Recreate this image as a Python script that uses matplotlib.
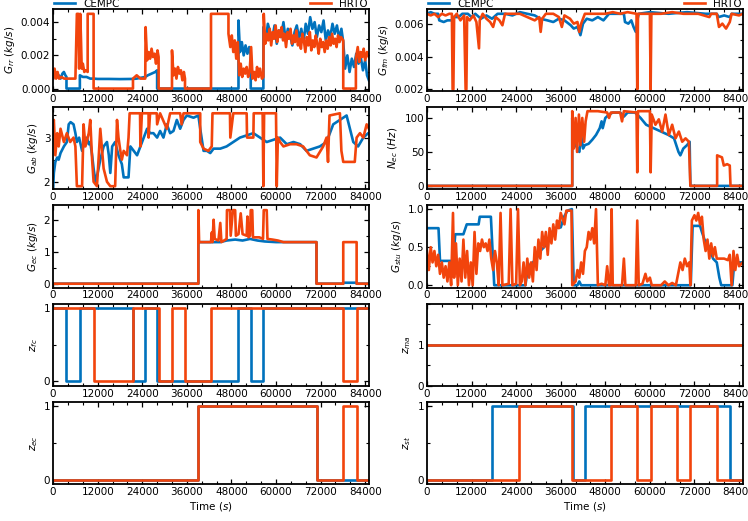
import numpy as np
import matplotlib
matplotlib.use('Agg')
import matplotlib.pyplot as plt
from matplotlib.ticker import MultipleLocator, AutoMinorLocator

# colours of the two controllers
BLUE = '#0072BD'
ORANGE = '#F2440C'

# ---- data: (time s, value) ----
grr_cempc = [(0, 0.0006), (500, 0.0009), (1000, 0.0007), (1500, 0.0008), (2000, 0.0006), (2500, 0.0009),
             (2900, 0.001), (3300, 0.0008), (3600, 0.0007), (3600, 0.0), (7200, 0.0), (7200, 0.0008),
             (8000, 0.0007), (9000, 0.0007), (10000, 0.0006), (10900, 0.0006), (12000, 0.00058),
             (15000, 0.00058), (18000, 0.00057), (21500, 0.00058), (22500, 0.0006), (24800, 0.0007),
             (25500, 0.0008), (26500, 0.0009), (27500, 0.001), (28000, 0.0011), (28000, 0.0), (49900, 0.0),
             (49900, 0.0041), (50300, 0.0022), (50800, 0.0028), (51300, 0.002), (51800, 0.0026),
             (52300, 0.0021), (52800, 0.0025), (53200, 0.002), (53200, 0.0), (56600, 0.0), (56600, 0.0037),
             (57200, 0.0028), (57800, 0.0039), (58400, 0.0034), (59000, 0.0030), (59600, 0.0038),
             (60200, 0.0027), (60800, 0.0035), (61400, 0.0031), (62000, 0.0040), (62600, 0.0029),
             (63200, 0.0036), (63800, 0.0032), (64400, 0.0026), (65000, 0.0034), (65600, 0.0038),
             (66200, 0.0030), (66800, 0.0036), (67400, 0.0028), (68000, 0.0039), (68600, 0.0033),
             (69200, 0.0043), (69800, 0.0036), (70400, 0.0040), (71000, 0.0031), (71600, 0.0038),
             (72200, 0.0034), (72800, 0.0041), (73400, 0.0029), (74000, 0.0035), (74600, 0.0031),
             (75200, 0.0039), (75800, 0.0033), (76400, 0.0038), (77000, 0.0030), (77600, 0.0036),
             (78100, 0.0028), (78600, 0.0012), (79200, 0.0020), (79800, 0.0010), (80400, 0.0018),
             (81000, 0.0013), (81600, 0.0021), (82200, 0.0015), (82800, 0.0019), (83400, 0.0011),
             (84000, 0.0017), (84500, 0.0008), (85000, 0.0005)]
grr_hrto = [(0, 0.0006), (400, 0.0012), (800, 0.0006), (1200, 0.001), (1600, 0.0006), (2200, 0.0007),
            (3000, 0.0006), (6000, 0.0006), (6400, 0.0045), (6800, 0.0045), (7000, 0.0012), (7300, 0.0045),
            (7500, 0.0030), (7700, 0.0012), (8000, 0.0015), (8400, 0.001), (8800, 0.0011), (9300, 0.0010),
            (9300, 0.0045), (10900, 0.0045), (10900, 0.0), (21500, 0.0), (21500, 0.0006), (22500, 0.0008),
            (23500, 0.0006), (24800, 0.0006), (24900, 0.0037), (25300, 0.0017), (25700, 0.0022),
            (26100, 0.0018), (26500, 0.0024), (26900, 0.0019), (27300, 0.0021), (27700, 0.0015),
            (28100, 0.0023), (28400, 0.0019), (28400, 0.0), (32000, 0.0), (32000, 0.0023), (32400, 0.0008),
            (32800, 0.0012), (33200, 0.0006), (33600, 0.0013), (34000, 0.0009), (34400, 0.0011),
            (34800, 0.0005), (35200, 0.001), (35500, 0.0006), (35500, 0.0), (42500, 0.0), (42500, 0.0045),
            (47200, 0.0045), (47200, 0.0033), (47700, 0.0025), (48100, 0.0032), (48500, 0.0022),
            (48900, 0.0029), (49300, 0.0018), (49700, 0.0028), (50100, 0.0008), (50500, 0.0015),
            (50900, 0.0007), (51300, 0.0012), (51700, 0.0009), (52100, 0.0013), (52500, 0.0007),
            (52900, 0.001), (53300, 0.0025), (53700, 0.0006), (54100, 0.001), (54500, 0.0005),
            (54900, 0.0013), (55300, 0.0007), (55700, 0.0012), (56200, 0.0006), (56600, 0.0007),
            (56700, 0.0045), (57100, 0.0027), (57500, 0.0033), (57900, 0.0029), (58300, 0.0036),
            (58700, 0.0026), (59100, 0.0034), (59500, 0.0030), (59900, 0.0038), (60300, 0.0028),
            (60700, 0.0035), (61100, 0.0031), (61500, 0.0037), (61900, 0.0029), (62300, 0.0033),
            (62700, 0.0025), (63100, 0.0034), (63500, 0.0030), (63900, 0.0036), (64300, 0.0027),
            (64700, 0.0032), (65100, 0.0028), (65500, 0.0035), (65900, 0.0026), (66300, 0.0030),
            (66700, 0.0024), (67100, 0.0033), (67500, 0.0029), (67900, 0.0022), (68300, 0.0031),
            (68700, 0.0026), (69100, 0.0034), (69500, 0.0023), (69900, 0.0029), (70300, 0.0025),
            (70700, 0.0032), (71100, 0.0027), (71500, 0.0021), (71900, 0.0030), (72300, 0.0025),
            (72700, 0.0028), (73100, 0.0022), (73500, 0.0029), (73900, 0.0024), (74300, 0.0031),
            (74700, 0.0026), (75100, 0.0033), (75500, 0.0027), (75900, 0.0030), (76300, 0.0025),
            (76700, 0.0032), (77100, 0.0028), (77500, 0.0031), (78100, 0.0029), (78100, 0.0), (81500, 0.0),
            (81500, 0.0018), (82000, 0.0025), (82400, 0.0016), (82800, 0.0022), (83200, 0.0019),
            (83600, 0.0024), (84000, 0.0017), (84500, 0.0022), (85000, 0.0019)]

gfm_cempc = [(0, 0.0066), (1000, 0.0067), (2000, 0.0066), (3000, 0.0066), (3300, 0.0062), (4500, 0.0061),
             (5500, 0.0062), (6900, 0.0062), (7000, 0.0064), (8500, 0.0064), (9500, 0.0066), (11000, 0.0066),
             (12000, 0.0064), (13000, 0.0066), (14500, 0.0063), (16000, 0.0065), (17500, 0.0063),
             (19000, 0.0066), (21000, 0.0066), (23000, 0.0065), (25000, 0.0067), (27000, 0.0066),
             (29000, 0.0065), (30500, 0.0063), (32400, 0.0062), (34000, 0.0061), (35500, 0.0063),
             (37000, 0.0062), (38700, 0.0059), (39500, 0.0057), (40500, 0.0058), (41300, 0.0053),
             (42000, 0.0060), (43000, 0.0063), (44500, 0.0062), (46000, 0.0064), (47500, 0.0062),
             (49000, 0.0066), (51000, 0.0066), (53000, 0.0066), (53300, 0.0061), (54200, 0.0060),
             (55000, 0.0062), (55600, 0.0058), (56200, 0.0055), (56600, 0.0062), (57000, 0.0066),
             (60000, 0.0067), (65000, 0.0066), (70000, 0.0067), (75000, 0.0066), (78000, 0.0066),
             (78500, 0.0064), (80000, 0.0065), (81500, 0.0064), (82000, 0.0066), (85000, 0.0066)]
gfm_hrto = [(0, 0.0066), (1000, 0.0065), (2000, 0.0066), (3000, 0.0064), (4000, 0.0066), (5000, 0.0065),
            (6000, 0.0066), (6700, 0.0066), (6900, 0.0020), (7100, 0.0020), (7300, 0.0064), (8000, 0.0066),
            (9000, 0.0062), (10000, 0.0065), (10400, 0.0020), (10600, 0.0020), (10800, 0.0064),
            (11500, 0.0062), (12500, 0.0065), (13300, 0.0061), (14000, 0.0045), (14200, 0.0062),
            (15000, 0.0066), (16000, 0.0063), (17000, 0.0061), (17800, 0.0058), (18500, 0.0064),
            (19500, 0.0062), (20300, 0.0059), (21000, 0.0066), (23000, 0.0066), (25000, 0.0066),
            (27000, 0.0064), (29000, 0.0062), (30200, 0.0064), (30600, 0.0055), (31000, 0.0063),
            (32000, 0.0066), (34000, 0.0066), (35500, 0.0064), (36300, 0.0058), (37000, 0.0065),
            (38500, 0.0063), (39500, 0.0060), (40500, 0.0061), (41000, 0.0055), (41500, 0.0060),
            (42500, 0.0066), (45000, 0.0066), (48000, 0.0066), (50000, 0.0067), (52000, 0.0066),
            (54000, 0.0067), (56400, 0.0066), (56600, 0.0020), (56800, 0.0066), (58000, 0.0066),
            (60000, 0.0066), (60200, 0.0020), (60400, 0.0066), (63000, 0.0066), (66000, 0.0067),
            (69000, 0.0066), (73000, 0.0066), (76000, 0.0064), (76500, 0.0066), (78000, 0.0066),
            (78600, 0.0058), (79500, 0.0060), (80500, 0.0057), (81500, 0.0061), (82000, 0.0066),
            (84000, 0.0065), (85000, 0.0066)]

gab_cempc = [(0, 1.85), (200, 2.2), (600, 2.45), (1100, 2.55), (1500, 2.5), (2000, 2.65), (2900, 2.8),
             (3700, 2.9), (4200, 3.3), (4700, 3.35), (5500, 3.3), (6000, 3.1), (6400, 2.9), (7000, 3.0),
             (7800, 2.7), (8500, 2.9), (9100, 3.0), (9600, 2.85), (10000, 2.9), (10500, 2.6), (10900, 2.3),
             (11400, 2.0), (12000, 2.2), (12700, 2.5), (13600, 2.8), (14500, 2.9), (15000, 2.6),
             (15400, 2.2), (15900, 2.8), (16700, 2.9), (17600, 2.6), (18500, 2.4), (19000, 2.1),
             (20300, 2.1), (20800, 2.8), (21700, 2.7), (22600, 2.6), (23500, 2.8), (24400, 3.0),
             (25300, 3.2), (26100, 3.1), (27000, 3.1), (28000, 3.0), (28800, 3.15), (29700, 3.0),
             (30600, 3.3), (31500, 3.1), (32400, 3.15), (33300, 3.4), (34200, 3.2), (35100, 3.4),
             (36000, 3.5), (37800, 3.45), (39100, 3.5), (39600, 3.2), (40500, 2.7), (41400, 2.7),
             (42300, 2.65), (43200, 2.75), (45000, 2.75), (46700, 2.8), (48500, 2.9), (50300, 3.0),
             (52100, 3.05), (53900, 3.1), (55700, 3.0), (57500, 2.9), (59300, 2.95), (61100, 3.0),
             (62900, 2.85), (64700, 2.9), (66500, 2.85), (68200, 2.7), (70000, 2.75), (71800, 2.8),
             (73600, 2.9), (75400, 3.3), (77200, 3.4), (79000, 3.5), (79900, 3.2), (80800, 2.9),
             (82100, 2.8), (83500, 3.0), (84800, 3.1), (85000, 3.1)]
gab_hrto = [(0, 3.3), (200, 3.4), (600, 2.6), (1100, 3.1), (1500, 2.8), (2000, 3.2), (2900, 2.9), (3700, 3.1),
            (4600, 2.9), (5500, 3.0), (6000, 2.8), (6400, 1.9), (7800, 1.9), (8200, 3.3), (8700, 2.8),
            (9600, 3.1), (10000, 3.4), (10500, 2.5), (10900, 2.0), (11800, 1.9), (12300, 2.6), (12700, 3.2),
            (13600, 2.3), (14500, 2.0), (15400, 1.9), (16700, 1.9), (17200, 3.4), (17600, 3.0), (18100, 2.7),
            (18500, 2.5), (19000, 2.7), (19900, 2.6), (20300, 3.0), (20600, 3.55), (23400, 3.55),
            (23500, 2.8), (23900, 3.55), (25700, 3.55), (25700, 3.0), (26100, 3.55), (27900, 3.55),
            (28000, 3.3), (28800, 3.55), (30600, 3.2), (31500, 3.55), (34200, 3.55), (34600, 3.3),
            (35100, 3.55), (39600, 3.55), (39600, 2.9), (40500, 2.75), (41800, 2.7), (42700, 2.8),
            (42900, 3.55), (47600, 3.55), (47700, 3.0), (48500, 3.55), (52100, 3.55), (52200, 3.0),
            (53900, 3.0), (54000, 3.55), (56400, 3.55), (56600, 1.9), (56800, 3.55), (60000, 3.55),
            (60200, 1.9), (60500, 3.0), (61100, 2.9), (62000, 2.8), (63800, 2.85), (65500, 2.85),
            (67300, 2.8), (69100, 2.6), (70900, 2.55), (72700, 2.8), (73600, 3.0), (74000, 2.45),
            (74400, 3.5), (77200, 3.55), (77600, 2.7), (78100, 2.45), (81200, 2.45), (81700, 3.0),
            (82600, 3.1), (83500, 3.0), (84400, 3.3), (85000, 3.2)]

nec_cempc = [(0, 0), (39100, 0), (39100, 100), (39500, 70), (40000, 60), (40500, 55), (41000, 50), (41500, 75),
             (42000, 55), (42500, 60), (43500, 62), (44500, 68), (45500, 75), (46500, 85), (47000, 95),
             (47300, 85), (48000, 100), (49000, 105), (50000, 108), (52000, 108), (53000, 102), (54000, 108),
             (56000, 108), (57500, 100), (59000, 90), (61000, 85), (63000, 80), (65000, 75), (66500, 70),
             (67700, 50), (68200, 45), (69000, 55), (70000, 60), (70700, 65), (70900, 0), (85000, 0)]
nec_hrto = [(0, 0), (39100, 0), (39100, 110), (39500, 55), (40000, 100), (40400, 50), (40900, 105), (41300, 60),
            (41800, 100), (42300, 65), (42700, 95), (43200, 110), (46000, 110), (48500, 108), (49000, 100),
            (49500, 108), (52000, 108), (52500, 95), (53000, 110), (56400, 108), (56600, 20), (56800, 110),
            (60000, 110), (60200, 20), (60500, 105), (61500, 90), (62400, 98), (63300, 80), (64200, 105),
            (65100, 75), (66000, 90), (66900, 70), (67800, 80), (68700, 65), (69600, 70), (70500, 65),
            (70900, 0), (78100, 0), (78100, 45), (79400, 42), (79900, 30), (80800, 32), (81500, 30),
            (81700, 0), (85000, 0)]

gec_cempc = [(0, 0), (39100, 0), (39100, 1.3), (45000, 1.3), (46700, 1.35), (49000, 1.38), (51000, 1.35),
             (53000, 1.4), (55000, 1.35), (57000, 1.32), (60000, 1.3), (70900, 1.3), (70900, 0), (78100, 0),
             (78100, 0.03), (81700, 0.03), (81700, 0), (85000, 0)]
gec_hrto = [(0, 0), (39100, 0), (39100, 2.3), (39300, 1.3), (42500, 1.3), (42700, 1.6), (42900, 1.3),
            (43200, 2.0), (43500, 1.4), (44500, 1.35), (45000, 1.9), (45300, 1.3), (46700, 1.4), (46800, 2.3),
            (47600, 2.3), (47800, 1.5), (48400, 2.3), (49000, 2.3), (49200, 1.5), (49900, 1.55), (50500, 2.2),
            (51000, 1.55), (52100, 1.5), (52300, 2.1), (52600, 1.45), (53000, 1.5), (53200, 2.3),
            (53600, 2.3), (53800, 1.45), (55500, 1.45), (56500, 1.4), (56700, 2.3), (57500, 2.3),
            (57700, 1.4), (59000, 1.38), (60500, 1.35), (62000, 1.3), (70900, 1.3), (70900, 0), (78100, 0),
            (78100, 1.3), (81700, 1.3), (81700, 0), (85000, 0)]

gstu_cempc = [(0, 0.75), (3100, 0.75), (3500, 0.32), (6700, 0.32), (7000, 0.28), (7600, 0.67), (9800, 0.67),
              (10700, 0.8), (13900, 0.8), (14200, 0.9), (17200, 0.9), (18100, 0.0), (26500, 0.0), (27200, 0.25),
              (28500, 0.3), (29500, 0.35), (30500, 0.45), (31500, 0.5), (32400, 0.55), (33300, 0.65),
              (34200, 0.75), (36000, 0.76), (36900, 0.9), (37800, 0.98), (39000, 1.0), (39500, 0.0),
              (40500, 0.0), (41000, 0.05), (41500, 0.0), (71000, 0.0), (71500, 0.78), (73500, 0.78),
              (74000, 0.7), (74700, 0.6), (76000, 0.5), (77000, 0.35), (78000, 0.3), (78700, 0.1),
              (79200, 0.0), (82200, 0.0), (82700, 0.3), (85000, 0.3)]
gstu_hrto = [(0, 0.45), (500, 0.2), (1000, 0.5), (1500, 0.3), (2000, 0.45), (2500, 0.25), (3000, 0.4),
             (3500, 0.15), (4000, 0.3), (4500, 0.1), (5000, 0.25), (5500, 0.05), (6000, 0.3), (6500, 0.0),
             (7000, 0.95), (7300, 0.1), (7800, 0.55), (8300, 0.0), (8800, 0.35), (9300, 0.05), (9800, 0.6),
             (10300, 0.1), (10800, 0.45), (11300, 0.0), (11800, 0.3), (12300, 0.0), (12800, 0.7),
             (13300, 0.15), (13800, 0.55), (14300, 0.45), (14800, 0.6), (15300, 0.5), (15800, 0.55),
             (16300, 0.45), (16800, 0.6), (17300, 0.35), (17800, 0.2), (18300, 0.45), (18800, 0.3),
             (19300, 0.0), (19800, 0.95), (20300, 0.0), (22000, 0.02), (22500, 1.0), (23000, 0.0),
             (24000, 0.02), (24500, 1.0), (25000, 0.0), (25500, 0.05), (26000, 0.3), (26500, 0.0),
             (27000, 0.35), (27500, 0.1), (28000, 0.3), (28500, 0.05), (29000, 0.5), (29500, 0.2),
             (30000, 0.6), (30500, 0.35), (31000, 0.7), (31500, 0.5), (32000, 0.7), (32500, 0.4),
             (33000, 0.75), (33500, 0.55), (34000, 0.8), (34500, 0.6), (35000, 0.85), (35500, 0.75),
             (36000, 0.95), (37000, 0.8), (37500, 0.98), (38900, 0.98), (39100, 0.0), (40000, 0.05),
             (40500, 0.2), (41000, 0.1), (41500, 0.3), (42000, 0.15), (42500, 0.45), (43000, 0.5),
             (43500, 0.7), (44000, 0.6), (44500, 0.75), (45000, 0.55), (45500, 1.0), (46000, 0.0),
             (47000, 0.02), (48000, 0.0), (48500, 0.25), (49000, 0.0), (49400, 0.0), (49700, 1.0),
             (50000, 0.0), (52500, 0.0), (53000, 0.35), (53400, 0.0), (56200, 0.0), (56600, 0.85),
             (57000, 0.0), (58000, 0.02), (58800, 0.15), (59300, 0.05), (60000, 0.1), (60500, 0.0),
             (63000, 0.0), (64000, 0.05), (65000, 0.0), (66000, 0.03), (67000, 0.0), (67600, 0.15),
             (68200, 0.3), (68800, 0.2), (69400, 0.35), (70000, 0.25), (70600, 0.3), (70900, 0.0),
             (71300, 0.85), (72000, 0.92), (72500, 0.85), (73000, 0.95), (73500, 0.8), (74000, 0.9),
             (74500, 0.6), (75000, 0.45), (75500, 0.6), (76000, 0.35), (76500, 0.55), (77000, 0.38),
             (77500, 0.5), (78000, 0.35), (79000, 0.35), (80000, 0.35), (81000, 0.33), (81500, 0.4),
             (82000, 0.0), (82500, 0.45), (83000, 0.2), (83500, 0.4), (84000, 0.25), (85000, 0.3)]

# binary decisions (switch times, value held until next time)
zfc_t_cempc = [0, 3600, 7200, 21500, 24800, 28000, 49900, 53200, 56600, 85000]
zfc_v_cempc = [1, 0, 1, 0, 1, 0, 1, 0, 1, 1]
zfc_t_hrto = [0, 10900, 21500, 28400, 32000, 35500, 42500, 78100, 81700, 85000]
zfc_v_hrto = [1, 0, 1, 0, 1, 0, 1, 0, 1, 1]
zec_t_cempc = [0, 39100, 70900, 85000]
zec_v_cempc = [0, 1, 0, 0]
zec_t_hrto = [0, 39100, 70900, 78100, 81700, 85000]
zec_v_hrto = [0, 1, 0, 1, 0, 0]
zma_t = [0, 85000]
zma_v_cempc = [1, 1]
zma_v_hrto = [1, 1]
zst_t_cempc = [0, 17600, 39400, 42500, 81500, 85000]
zst_v_cempc = [0, 1, 0, 1, 0, 0]
zst_t_hrto = [0, 24800, 39100, 49600, 56600, 60200, 67300, 70900, 78100, 85000]
zst_v_hrto = [0, 1, 0, 1, 0, 1, 0, 1, 0, 0]

fig, axs = plt.subplots(5, 2, figsize=(7.48, 5.21), dpi=100)
plt.subplots_adjust(left=0.071, right=0.993, top=0.983, bottom=0.071, hspace=0.195, wspace=0.184)

lw = 1.9


def curve(ax, a, b):
    t1, v1 = zip(*a)
    t2, v2 = zip(*b)
    ax.plot(t1, v1, color=BLUE, lw=lw, label='CEMPC')
    ax.plot(t2, v2, color=ORANGE, lw=lw, label='HRTO')


def steps(ax, ta, va, tb, vb):
    ax.plot(ta, va, color=BLUE, lw=lw, drawstyle='steps-post', label='CEMPC')
    ax.plot(tb, vb, color=ORANGE, lw=lw, drawstyle='steps-post', label='HRTO')


curve(axs[0, 0], grr_cempc, grr_hrto)
curve(axs[0, 1], gfm_cempc, gfm_hrto)
curve(axs[1, 0], gab_cempc, gab_hrto)
curve(axs[1, 1], nec_cempc, nec_hrto)
curve(axs[2, 0], gec_cempc, gec_hrto)
curve(axs[2, 1], gstu_cempc, gstu_hrto)
steps(axs[3, 0], zfc_t_cempc, zfc_v_cempc, zfc_t_hrto, zfc_v_hrto)
steps(axs[3, 1], zma_t, zma_v_cempc, zma_t, zma_v_hrto)
steps(axs[4, 0], zec_t_cempc, zec_v_cempc, zec_t_hrto, zec_v_hrto)
steps(axs[4, 1], zst_t_cempc, zst_v_cempc, zst_t_hrto, zst_v_hrto)

ylabels = [[r'$G_{rr}\ (kg/s)$', r'$G_{fm}\ (kg/s)$'],
           [r'$G_{ab}\ (kg/s)$', r'$N_{ec}\ (Hz)$'],
           [r'$G_{ec}\ (kg/s)$', r'$G_{stu}\ (kg/s)$'],
           [r'$z_{fc}$', r'$z_{ma}$'],
           [r'$z_{ec}$', r'$z_{st}$']]

axs[0, 0].set_ylim(-0.00015, 0.0048)
axs[0, 0].set_yticks([0, 0.002, 0.004])
axs[0, 1].set_ylim(0.0019, 0.0069)
axs[0, 1].set_yticks([0.002, 0.004, 0.006])
axs[1, 0].set_ylim(1.83, 3.69)
axs[1, 0].set_yticks([2, 3])
axs[1, 1].set_ylim(-5, 116)
axs[1, 1].set_yticks([0, 50, 100])
axs[2, 0].set_ylim(-0.12, 2.45)
axs[2, 0].set_yticks([0, 1, 2])
axs[2, 1].set_ylim(-0.03, 1.05)
axs[2, 1].set_yticks([0.0, 0.5, 1.0])
axs[3, 1].set_ylim(0, 2)
for ax in [axs[3, 0], axs[3, 1], axs[4, 0], axs[4, 1]]:
    ax.set_yticks([0, 1])
for ax in [axs[3, 0], axs[4, 0], axs[4, 1]]:
    ax.set_ylim(-0.06, 1.06)

for i in range(5):
    for j in range(2):
        ax = axs[i, j]
        ax.set_xlim(0, 85000)
        ax.xaxis.set_major_locator(MultipleLocator(12000))
        ax.xaxis.set_minor_locator(MultipleLocator(4000))
        ax.yaxis.set_minor_locator(AutoMinorLocator(2))
        ax.tick_params(which='both', direction='in', top=True, right=True, labelsize=7.5, pad=2)
        ax.tick_params(which='major', length=3.5, width=0.9)
        ax.tick_params(which='minor', length=2, width=0.8)
        for s in ax.spines.values():
            s.set_linewidth(1.3)
        ax.set_ylabel(ylabels[i][j], fontsize=7.5, labelpad=3)

axs[4, 0].set_xlabel(r'Time ($s$)', fontsize=7.5, labelpad=2)
axs[4, 1].set_xlabel(r'Time ($s$)', fontsize=7.5, labelpad=2)

for ax in axs[0]:
    ax.legend(loc='lower left', bbox_to_anchor=(0, 0.99, 1, 0.1), mode='expand', ncol=2,
              frameon=False, fontsize=7.5, borderaxespad=0, borderpad=0.1, handlelength=2.0)

plt.savefig('out.png', dpi=100)
